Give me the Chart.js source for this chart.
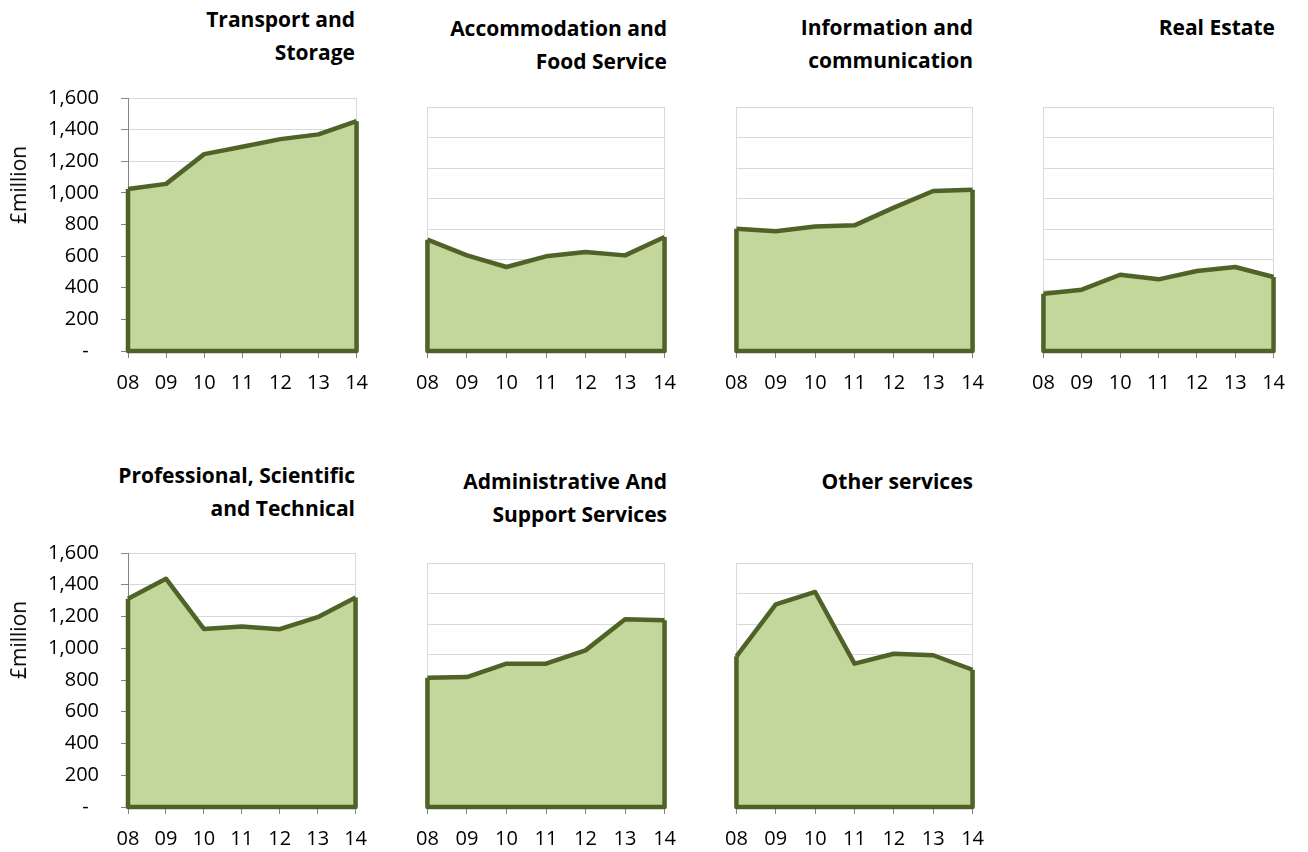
<!DOCTYPE html>
<html>
<head>
<meta charset="utf-8">
<script src="https://cdn.jsdelivr.net/npm/chart.js@4"></script>
<style>
  body { margin: 0; width: 1308px; height: 852px; background: #fff; position: relative; overflow: hidden; font-family: 'Open Sans', sans-serif; }
  .box { position: absolute; }
  .title { position: absolute; font-weight: bold; font-size: 21px; line-height: 33px; text-align: right; white-space: nowrap; color: #000; }
  .ylab { position: absolute; font-size: 21px; transform: translate(-50%, -50%) rotate(-90deg); white-space: nowrap; color: #000; }
</style>
</head>
<body>

<script>
// years on the x axis
const years = ['08', '09', '10', '11', '12', '13', '14'];

// £ million per sector
const transport      = [1025, 1057, 1245, 1292, 1340, 1370, 1453];
const accommodation  = [730, 627, 551, 621, 649, 627, 748];
const information    = [802, 785, 817, 824, 940, 1049, 1058];
const realEstate     = [376, 402, 500, 470, 525, 551, 485];
const professional   = [1312, 1438, 1122, 1137, 1120, 1196, 1320];
const administrative = [848, 852, 940, 940, 1027, 1231, 1224];
const otherServices  = [988, 1329, 1410, 940, 1005, 995, 900];

// y axis ticks
const yMax = 1600;
const yStep = 200;

const fillColour = '#C3D69B';
const lineColour = '#4F6228';
const lineWidth = 4.5;

Chart.defaults.font.family = "'Open Sans', sans-serif";
Chart.defaults.color = '#000';

// panels: title lines, data, whether it shows the y axis, and where it sits
const panels = [
    { title: ['Transport and', 'Storage'], data: transport, yAxis: true,
      box: [0, 84, 381, 307], titleAt: [355, 19] },
    { title: ['Accommodation and', 'Food Service'], data: accommodation, yAxis: false,
      box: [403, 93, 286, 298], titleAt: [667, 28] },
    { title: ['Information and', 'communication'], data: information, yAxis: false,
      box: [712, 93, 285, 298], titleAt: [973, 27] },
    { title: ['Real Estate'], data: realEstate, yAxis: false,
      box: [1019, 93, 279, 298], titleAt: [1275, 27] },
    { title: ['Professional, Scientific', 'and Technical'], data: professional, yAxis: true,
      box: [0, 539, 380, 308], titleAt: [355, 475] },
    { title: ['Administrative And', 'Support Services'], data: administrative, yAxis: false,
      box: [403, 549, 286, 298], titleAt: [667, 481] },
    { title: ['Other services'], data: otherServices, yAxis: false,
      box: [712, 549, 285, 298], titleAt: [973, 481] }
];

const yLabels = [[18, 185], [18, 640]];

// Excel draws a border round the whole area, not just the top line
const areaOutline = {
    id: 'areaOutline',
    afterDatasetsDraw(chart) {
        const pts = chart.getDatasetMeta(0).data;
        const y0 = chart.scales.y.getPixelForValue(0);
        const first = pts[0];
        const last = pts[pts.length - 1];
        const ctx = chart.ctx;
        ctx.save();
        ctx.strokeStyle = lineColour;
        ctx.lineWidth = lineWidth;
        ctx.lineJoin = 'round';
        ctx.beginPath();
        ctx.moveTo(first.x, first.y);
        ctx.lineTo(first.x, y0);
        ctx.lineTo(last.x, y0);
        ctx.lineTo(last.x, last.y);
        ctx.stroke();
        ctx.restore();
    }
};

panels.forEach(function(p) {

    const div = document.createElement('div');
    div.className = 'box';
    div.style.left = p.box[0] + 'px';
    div.style.top = p.box[1] + 'px';
    div.style.width = p.box[2] + 'px';
    div.style.height = p.box[3] + 'px';
    const canvas = document.createElement('canvas');
    div.appendChild(canvas);
    document.body.appendChild(div);

    const t = document.createElement('div');
    t.className = 'title';
    t.innerHTML = p.title.join('<br>');
    t.style.right = (1308 - p.titleAt[0]) + 'px';
    t.style.top = (p.titleAt[1] - 16.5) + 'px';
    document.body.appendChild(t);

    new Chart(canvas, {

        type: 'line',

        data: {
            labels: years,
            datasets: [{
                data: p.data,
                fill: 'origin',
                backgroundColor: fillColour,
                borderColor: lineColour,
                borderWidth: lineWidth,
                borderJoinStyle: 'round',
                pointRadius: 0,
                tension: 0
            }]
        },

        options: {
            responsive: true,
            maintainAspectRatio: false,
            animation: false,
            layout: { padding: { top: 14, right: 14, left: 0, bottom: 0 } },
            plugins: {
                legend: { display: false },
                tooltip: { enabled: false }
            },
            scales: {
                x: {
                    afterFit: function(s) { s.height = 40; },
                    grid: {
                        color: function(c) {
                            return (c.index === 0 || c.index === years.length - 1) ? '#D9D9D9' : 'rgba(0,0,0,0)';
                        },
                        tickColor: '#868686',
                        tickLength: 7
                    },
                    border: { color: '#868686' },
                    ticks: { font: { size: 20 }, padding: 13, maxRotation: 0 }
                },
                y: {
                    min: 0,
                    max: yMax,
                    afterFit: function(s) {
                        s.width = p.yAxis ? 128 : 20;
                        s.paddingTop = 0;
                        s.paddingBottom = 0;
                    },
                    grid: {
                        color: '#D9D9D9',
                        drawTicks: p.yAxis,
                        tickColor: '#868686',
                        tickLength: 7
                    },
                    border: { display: p.yAxis, color: '#868686' },
                    ticks: {
                        display: p.yAxis,
                        stepSize: yStep,
                        padding: 22,
                        font: { size: 20 },
                        callback: function(v) {
                            return v === 0 ? '-  ' : v.toLocaleString('en-GB');
                        }
                    }
                }
            }
        },

        plugins: [areaOutline]

    });

});

yLabels.forEach(function(pos) {
    const l = document.createElement('div');
    l.className = 'ylab';
    l.textContent = '£million';
    l.style.left = pos[0] + 'px';
    l.style.top = pos[1] + 'px';
    document.body.appendChild(l);
});
</script>

</body>
</html>
